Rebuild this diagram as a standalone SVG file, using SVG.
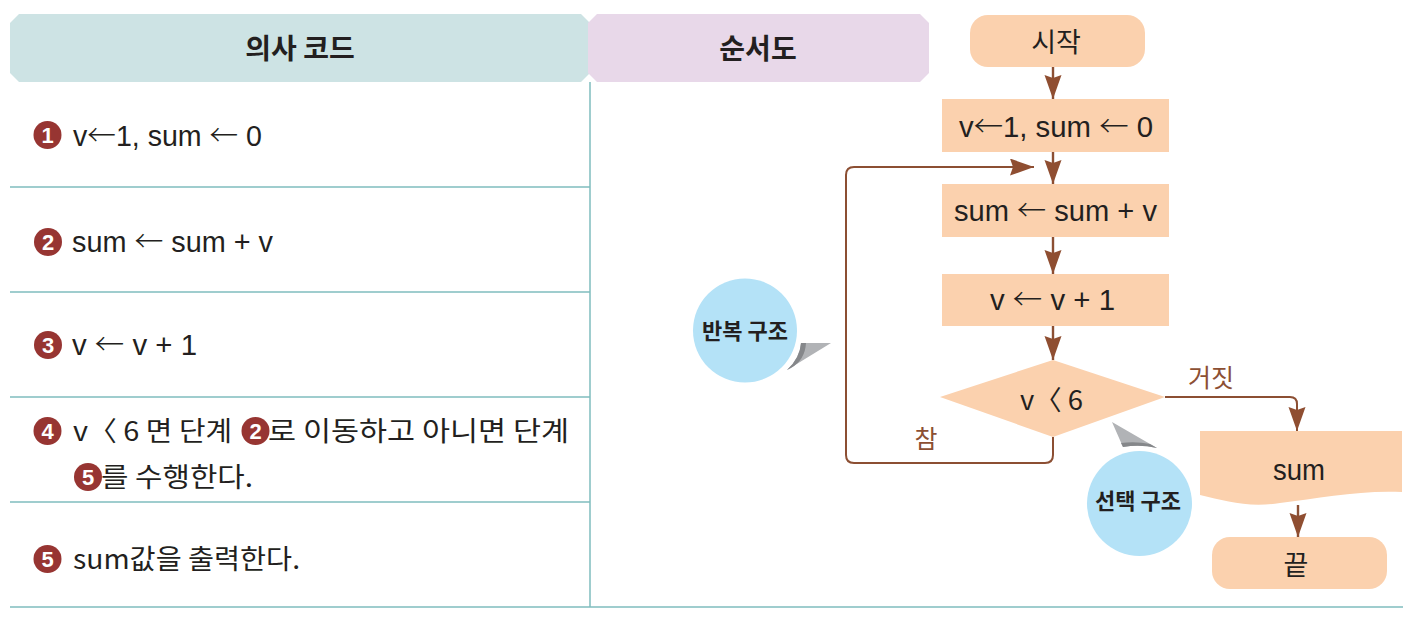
<svg xmlns="http://www.w3.org/2000/svg" width="1414" height="621" viewBox="0 0 1414 621">
<defs>
<style>
.t{font-family:"Liberation Sans","Noto Sans CJK KR",sans-serif;font-size:29px;fill:#231f20}
.ar{font-family:"Noto Sans CJK KR",sans-serif;font-weight:300}
.k{font-family:"Noto Sans CJK KR",sans-serif;font-size:27px;fill:#231f20}
.h{font-family:"Noto Sans CJK KR",sans-serif;font-size:28px;font-weight:bold;fill:#231f20}
.bn{font-family:"Liberation Sans",sans-serif;font-size:22px;font-weight:bold;fill:#fff}
.bd{fill:#973532}
.sep{stroke:#7fbdbe;stroke-width:1.5;fill:none}
.box{fill:#fbd1ae}
.ln{stroke:#8c4f33;stroke-width:2.4;fill:none}
.lp{stroke:#8c4f33;stroke-width:2;fill:none}
.lbl{font-family:"Noto Sans CJK KR",sans-serif;font-size:25px;fill:#8c4f33}
.cb{fill:#b4e2f7}
.ct{font-family:"Noto Sans CJK KR",sans-serif;font-size:22px;font-weight:bold;fill:#231f20}
.tail{fill:#b1b3b6}
.tailD{fill:#85878a}
</style>
<marker id="ah" markerUnits="userSpaceOnUse" markerWidth="26" markerHeight="18" refX="24" refY="8.5" orient="auto">
<path d="M0,0 L24,8.5 L0,17 L3,8.5 Z" fill="#8f4e31"/>
</marker>
</defs>

<g id="header-pseudo">
<polygon points="19,14 581,14 590,23 590,73 581,82 19,82 10,73 10,23" fill="#cde3e4"/>
<text class="h" x="300" y="59" text-anchor="middle">의사 코드</text>
</g>
<g id="header-flow">
<polygon points="597,14 920,14 929,23 929,73 920,82 597,82 588,73 588,23" fill="#e8d8e9"/>
<text class="h" x="758" y="59" text-anchor="middle">순서도</text>
</g>

<g id="table-lines">
<line class="sep" x1="590" y1="82" x2="590" y2="607"/>
<line class="sep" x1="10" y1="187" x2="590" y2="187"/>
<line class="sep" x1="10" y1="292" x2="590" y2="292"/>
<line class="sep" x1="10" y1="397" x2="590" y2="397"/>
<line class="sep" x1="10" y1="502" x2="590" y2="502"/>
<line class="sep" x1="10" y1="607" x2="1403" y2="607"/>
</g>

<g id="step1">
<circle class="bd" cx="47.5" cy="135" r="14"/>
<text class="bn" x="47.5" y="143" text-anchor="middle">1</text>
<text class="t" x="73" y="146" textLength="189" lengthAdjust="spacingAndGlyphs">v<tspan class="ar">←</tspan>1, sum <tspan class="ar">←</tspan> 0</text>
</g>
<g id="step2">
<circle class="bd" cx="48" cy="242" r="14"/>
<text class="bn" x="48" y="250" text-anchor="middle">2</text>
<text class="t" x="72" y="252" textLength="201" lengthAdjust="spacingAndGlyphs">sum <tspan class="ar">←</tspan> sum + v</text>
</g>
<g id="step3">
<circle class="bd" cx="48" cy="345" r="14"/>
<text class="bn" x="48" y="353" text-anchor="middle">3</text>
<text class="t" x="72" y="355" textLength="125" lengthAdjust="spacingAndGlyphs">v <tspan class="ar">←</tspan> v + 1</text>
</g>
<g id="step4">
<circle class="bd" cx="47.5" cy="431" r="14"/>
<text class="bn" x="47.5" y="439" text-anchor="middle">4</text>
<text class="k" x="73" y="441" textLength="159" lengthAdjust="spacingAndGlyphs">v〈 6 면 단계</text>
<circle class="bd" cx="255.5" cy="431" r="14"/>
<text class="bn" x="255.5" y="439" text-anchor="middle">2</text>
<text class="k" x="268" y="441" textLength="301" lengthAdjust="spacingAndGlyphs">로 이동하고 아니면 단계</text>
<circle class="bd" cx="88" cy="477" r="14"/>
<text class="bn" x="88" y="485" text-anchor="middle">5</text>
<text class="k" x="101" y="487" textLength="152" lengthAdjust="spacingAndGlyphs">를 수행한다.</text>
</g>
<g id="step5">
<circle class="bd" cx="47.5" cy="559" r="14"/>
<text class="bn" x="47.5" y="567" text-anchor="middle">5</text>
<text class="k" x="73" y="569" textLength="227" lengthAdjust="spacingAndGlyphs">sum값을 출력한다.</text>
</g>

<g id="start">
<rect class="box" x="970" y="15" width="175" height="52" rx="18"/>
<text class="k" x="1056" y="52" text-anchor="middle" font-size="28">시작</text>
</g>
<g id="init">
<rect class="box" x="942" y="99" width="227" height="53"/>
<text class="t" x="959" y="137" textLength="194" lengthAdjust="spacingAndGlyphs">v<tspan class="ar">←</tspan>1, sum <tspan class="ar">←</tspan> 0</text>
</g>
<g id="add">
<rect class="box" x="942" y="184" width="227" height="53"/>
<text class="t" x="954" y="221" textLength="203" lengthAdjust="spacingAndGlyphs">sum <tspan class="ar">←</tspan> sum + v</text>
</g>
<g id="inc">
<rect class="box" x="942" y="274" width="227" height="52"/>
<text class="t" x="990" y="310" textLength="125" lengthAdjust="spacingAndGlyphs">v <tspan class="ar">←</tspan> v + 1</text>
</g>
<g id="cond">
<polygon class="box" points="1053,360 1165,397 1053,437 940,397"/>
<text class="k" x="1020" y="410" textLength="63" lengthAdjust="spacingAndGlyphs">v〈 6</text>
</g>
<g id="output">
<path class="box" d="M1200,431 H1402 V492 C1360,490 1320,498 1280,503 C1248,508 1226,501 1200,495 Z"/>
<text class="t" x="1273" y="480" textLength="52" lengthAdjust="spacingAndGlyphs">sum</text>
</g>
<g id="end">
<rect class="box" x="1212" y="537" width="175" height="52" rx="18"/>
<text class="k" x="1296" y="575" text-anchor="middle" font-size="30">끝</text>
</g>

<g id="connectors">
<line class="ln" x1="1053" y1="67" x2="1053" y2="99" marker-end="url(#ah)"/>
<line class="ln" x1="1053" y1="152" x2="1053" y2="184" marker-end="url(#ah)"/>
<line class="ln" x1="1053" y1="237" x2="1053" y2="274" marker-end="url(#ah)"/>
<line class="ln" x1="1053" y1="326" x2="1053" y2="360" marker-end="url(#ah)"/>
<path class="lp" d="M1053,437 V455 Q1053,463 1045,463 H854 Q846,463 846,455 V175 Q846,167 854,167 H1034" marker-end="url(#ah)"/>
<path class="lp" d="M1165,397 H1290 Q1297,397 1297,404 V431" marker-end="url(#ah)"/>
<line class="ln" x1="1298" y1="505" x2="1298" y2="537" marker-end="url(#ah)"/>
<text class="lbl" x="926" y="448" text-anchor="middle">참</text>
<text class="lbl" x="1211" y="387" text-anchor="middle">거짓</text>
</g>

<g id="callout-loop">
<path class="tail" d="M801,343 L831,343 L787,370 Q800,358 801,343 Z"/>
<path class="tailD" d="M801,343 L806,343 Q805,360 791,368 L787,370 Q800,358 801,343 Z"/>
<circle class="cb" cx="745" cy="330.5" r="52"/>
<text class="ct" x="745" y="339" text-anchor="middle">반복 구조</text>
</g>
<g id="callout-select">
<path class="tail" d="M1112,422 L1157,448 Q1140,444 1123,447 Z"/>
<path class="tailD" d="M1123,447 Q1140,444 1157,448 L1150,444 Q1136,441 1121,443 Z"/>
<circle class="cb" cx="1139.5" cy="503.5" r="52.5"/>
<text class="ct" x="1138" y="509" text-anchor="middle">선택 구조</text>
</g>
</svg>
